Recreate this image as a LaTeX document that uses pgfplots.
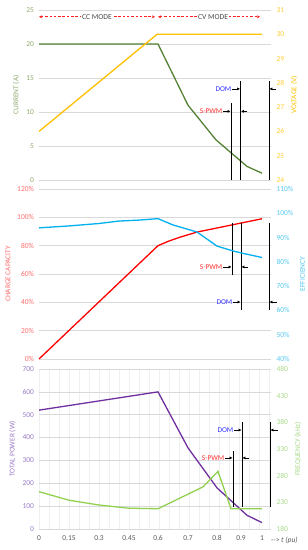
\documentclass[border=0pt]{standalone}
\usepackage{fontspec}
\setmainfont{Carlito}
\usepackage{pgfplots}
\pgfplotsset{compat=1.18}
\usetikzlibrary{arrows.meta}
\definecolor{cur}{HTML}{548235}
\definecolor{curt}{HTML}{8FAA6E}
\definecolor{volt}{HTML}{FFC000}
\definecolor{voltt}{HTML}{FFCC33}
\definecolor{chg}{HTML}{FF0000}
\definecolor{chgt}{HTML}{FF6B6B}
\definecolor{eff}{HTML}{00B0F0}
\definecolor{efft}{HTML}{55C8F2}
\definecolor{pow}{HTML}{7030A0}
\definecolor{powt}{HTML}{9A7CC6}
\definecolor{frq}{HTML}{92D050}
\definecolor{frqt}{HTML}{A9D88A}
\definecolor{gridc}{HTML}{D9D9D9}
\definecolor{mgrid}{HTML}{EFEFEF}
\definecolor{dom}{HTML}{3333FF}
\definecolor{spwm}{HTML}{FF3333}
\definecolor{modec}{HTML}{FF2020}
\tikzset{
 vl/.style={black, line width=0.9pt},
 ar/.style={black, line width=0.7pt, -{Latex[length=2.8pt,width=3pt]}},
 anno/.style={font=\fontsize{7.4}{8}\selectfont, inner sep=0.5pt, anchor=east},
}
\pgfplotsset{
 base/.style={
  scale only axis, width=232pt, xmin=0, xmax=232,
  axis line style={draw=none},
  major tick length=0pt, minor tick length=0pt,
  tick label style={font=\fontsize{7.5}{8}\selectfont},
  label style={font=\fontsize{7.4}{8}\selectfont},
  /pgf/number format/assume math mode=true,
  clip=false,
 },
 leftax/.style={base, axis y line*=left, axis x line*=bottom,
  ymajorgrids, major grid style={gridc, line width=0.5pt},
  minor xtick={0,10,...,230}, xminorgrids, minor grid style={mgrid, line width=0.4pt},
  yticklabel style={xshift=-1.5pt},
 },
 rightax/.style={base, axis y line*=right, axis x line=none, xtick=\empty,
  yticklabel style={xshift=2pt}},
 dl/.style={line width=1.3pt, no marks},
}
\begin{document}
\begin{tikzpicture}
% ---------------- TOP ----------------
\begin{axis}[leftax, at={(39pt,-180pt)}, anchor=south west, height=170pt,
  ymin=0, ymax=25, ytick={0,5,...,25}, xtick=\empty,
  yticklabel style={text=curt}, ylabel={CURRENT (A)}, ylabel style={text=curt}]
\addplot[dl, cur] coordinates {(0,20) (119,20) (149,11) (177,5.9) (208,2) (223,1)};
\draw[color=modec, line width=0.8pt, dash pattern=on 2.5pt off 1.8pt, {Stealth[length=3.2pt,width=3pt]}-{Stealth[length=3.2pt,width=3pt]}] (axis cs:0,24) -- (axis cs:116,24);
\draw[color=modec, line width=0.8pt, dash pattern=on 2.5pt off 1.8pt, {Stealth[length=3.2pt,width=3pt]}-{Stealth[length=3.2pt,width=3pt]}] (axis cs:119,24) -- (axis cs:221,24);
\node[fill=white, inner sep=1pt, text=black!70, font=\fontsize{7.6}{8}\selectfont] at (axis cs:58,24) {CC MODE};
\node[fill=white, inner sep=1pt, text=black!70, font=\fontsize{7.6}{8}\selectfont] at (axis cs:174,24) {CV MODE};
\draw[vl] (axis cs:192,0) -- (axis cs:192,11.3);
\draw[vl] (axis cs:201.5,0) -- (axis cs:201.5,14.6);
\draw[vl] (axis cs:230,0) -- (axis cs:230,14.6);
\draw[ar] (axis cs:193,13.4) -- (axis cs:201,13.4);
\node[anno, text=dom] at (axis cs:193,13.4) {DOM};
\draw[ar] (axis cs:237,13.4) -- (axis cs:230.5,13.4);
\draw[ar] (axis cs:184,10.1) -- (axis cs:191.5,10.1);
\node[anno, text=spwm] at (axis cs:184,10.1) {S-PWM};
\draw[ar] (axis cs:208,10.1) -- (axis cs:202,10.1);
\end{axis}
\begin{axis}[rightax, at={(39pt,-180pt)}, anchor=south west, height=170pt,
  ymin=24, ymax=31, ytick={24,25,...,31},
  yticklabel style={text=voltt}, ylabel={VOLTAGE (V)}, ylabel style={text=volt}]
\addplot[dl, volt] coordinates {(0,26) (118,30) (223,30)};
\end{axis}
% ---------------- MIDDLE ----------------
\begin{axis}[leftax, at={(39pt,-359pt)}, anchor=south west, height=170pt,
  ymin=0, ymax=120, ytick={0,20,...,120}, xtick=\empty,
  yticklabel={\pgfmathprintnumber{\tick}\%},
  yticklabel style={text=chgt}, ylabel={CHARGE CAPACITY}, ylabel style={text=chgt}]
\addplot[dl, chg] coordinates {(0,0) (119,80) (130,83.3) (141,86) (158,89.6) (223,99)};
\draw[vl] (axis cs:193,59.3) -- (axis cs:193,96);
\draw[vl] (axis cs:202,34.6) -- (axis cs:202,96);
\draw[vl] (axis cs:230,34.6) -- (axis cs:230,96);
\draw[ar] (axis cs:184,65) -- (axis cs:192.5,65);
\node[anno, text=spwm] at (axis cs:184,65) {S-PWM};
\draw[ar] (axis cs:209,65) -- (axis cs:202.5,65);
\draw[ar] (axis cs:194,40.2) -- (axis cs:201.5,40.2);
\node[anno, text=dom] at (axis cs:194,40.2) {DOM};
\draw[ar] (axis cs:238,40.2) -- (axis cs:230.5,40.2);
\end{axis}
\begin{axis}[rightax, at={(39pt,-359pt)}, anchor=south west, height=170pt,
  ymin=40, ymax=110, ytick={40,50,...,110},
  yticklabel={\pgfmathprintnumber{\tick}\%},
  yticklabel style={text=efft}, ylabel={EFFICIENCY}, ylabel style={text=efft}]
\addplot[dl, eff] coordinates {(0,94) (30,94.8) (60,95.8) (80,96.8) (100,97.2) (119,97.8) (134,95.2) (158,92.3) (178,86.5) (194,84.5) (203,83.6) (223,81.8)};
\end{axis}
% ---------------- BOTTOM ----------------
\begin{axis}[leftax, at={(39pt,-529pt)}, anchor=south west, height=160pt,
  ymin=0, ymax=700, ytick={0,100,...,700},
  xtick={0,30,60,90,119,149,178,202,223},
  xticklabels={0,0.15,0.3,0.45,0.6,0.7,0.8,0.9,1},
  xticklabel style={text=black!65, yshift=-3pt},
  yticklabel style={text=powt}, ylabel={TOTAL POWER (W)}, ylabel style={text=powt}]
\addplot[dl, pow] coordinates {(0,520) (119,600) (149,355) (178,180) (208,60) (223,28)};
\draw[vl] (axis cs:194,96) -- (axis cs:194,341);
\draw[vl] (axis cs:203,96) -- (axis cs:203,468);
\draw[vl] (axis cs:231,96) -- (axis cs:231,468);
\draw[ar] (axis cs:195,433) -- (axis cs:202.5,433);
\node[anno, text=dom] at (axis cs:195,433) {DOM};
\draw[ar] (axis cs:239,433) -- (axis cs:231.5,433);
\draw[ar] (axis cs:186,311) -- (axis cs:193.5,311);
\node[anno, text=spwm] at (axis cs:186,311) {S-PWM};
\draw[ar] (axis cs:210,311) -- (axis cs:203.5,311);
\end{axis}
\begin{axis}[rightax, at={(39pt,-529pt)}, anchor=south west, height=160pt,
  ymin=180, ymax=480, ytick={180,230,...,480},
  yticklabel style={text=frqt}, ylabel={FREQUENCY (kHz)}, ylabel style={text=frqt}]
\addplot[dl, frq] coordinates {(0,250) (30,234) (60,225) (90,219) (119,218) (164,259) (179,288) (192,218) (223,218)};
\end{axis}
\node[anchor=west, text=black!65, font=\fontsize{7.5}{8}\selectfont, inner sep=0pt] at (271pt,-540pt) {-{}-{}> \textit{t (pu)}};
\pgfresetboundingbox
\useasboundingbox (0pt,0pt) rectangle (308pt,-550pt);
\end{tikzpicture}
\end{document}
